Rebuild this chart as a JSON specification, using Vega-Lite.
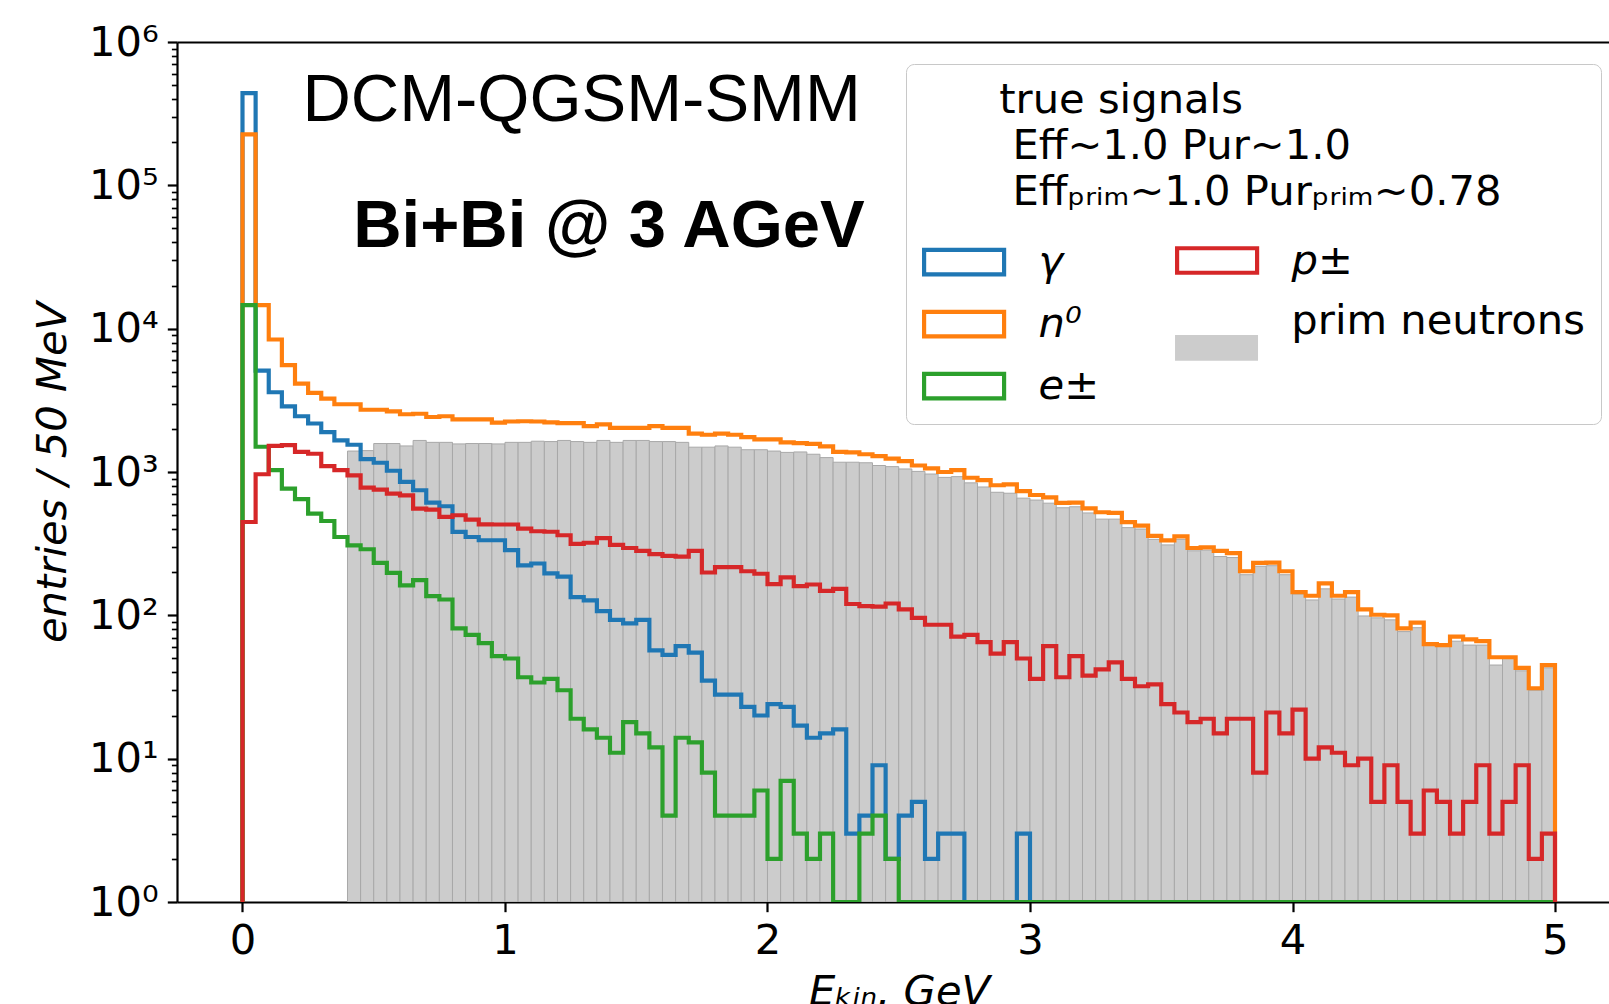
{
  "$schema": "https://vega.github.io/schema/vega-lite/v6.json",
  "autosize": {"type": "none"},
  "padding": {"left": 177, "top": 42, "right": 0, "bottom": 102},
  "width": 1432,
  "height": 860,
  "background": "white",
  "datasets": {
    "steps": [
      {"s":"γ","e":0,"n":0},
      {"s":"γ","e":0,"n":440000},{"s":"γ","e":0.05,"n":5100},{"s":"γ","e":0.1,"n":3600},{"s":"γ","e":0.15,"n":2870},{"s":"γ","e":0.2,"n":2450},{"s":"γ","e":0.25,"n":2180},{"s":"γ","e":0.3,"n":1900},{"s":"γ","e":0.35,"n":1660},{"s":"γ","e":0.4,"n":1550},{"s":"γ","e":0.45,"n":1230},
      {"s":"γ","e":0.5,"n":1160},{"s":"γ","e":0.55,"n":1020},{"s":"γ","e":0.6,"n":853},{"s":"γ","e":0.65,"n":746},{"s":"γ","e":0.7,"n":612},{"s":"γ","e":0.75,"n":577},{"s":"γ","e":0.8,"n":382},{"s":"γ","e":0.85,"n":352},{"s":"γ","e":0.9,"n":334},{"s":"γ","e":0.95,"n":334},
      {"s":"γ","e":1,"n":285},{"s":"γ","e":1.05,"n":223},{"s":"γ","e":1.1,"n":230},{"s":"γ","e":1.15,"n":196},{"s":"γ","e":1.2,"n":186},{"s":"γ","e":1.25,"n":134},{"s":"γ","e":1.3,"n":127},{"s":"γ","e":1.35,"n":107},{"s":"γ","e":1.4,"n":93},{"s":"γ","e":1.45,"n":88},
      {"s":"γ","e":1.5,"n":93},{"s":"γ","e":1.55,"n":57},{"s":"γ","e":1.6,"n":53},{"s":"γ","e":1.65,"n":61},{"s":"γ","e":1.7,"n":55},{"s":"γ","e":1.75,"n":35},{"s":"γ","e":1.8,"n":28},{"s":"γ","e":1.85,"n":28},{"s":"γ","e":1.9,"n":23},{"s":"γ","e":1.95,"n":20},
      {"s":"γ","e":2,"n":24},{"s":"γ","e":2.05,"n":23},{"s":"γ","e":2.1,"n":17},{"s":"γ","e":2.15,"n":14},{"s":"γ","e":2.2,"n":15},{"s":"γ","e":2.25,"n":16},{"s":"γ","e":2.3,"n":3},{"s":"γ","e":2.35,"n":4},{"s":"γ","e":2.4,"n":9},{"s":"γ","e":2.45,"n":2},
      {"s":"γ","e":2.5,"n":4},{"s":"γ","e":2.55,"n":5},{"s":"γ","e":2.6,"n":2},{"s":"γ","e":2.65,"n":3},{"s":"γ","e":2.7,"n":3},{"s":"γ","e":2.75,"n":1},{"s":"γ","e":2.8,"n":1},{"s":"γ","e":2.85,"n":1},{"s":"γ","e":2.9,"n":1},{"s":"γ","e":2.95,"n":3},
      {"s":"γ","e":3,"n":0},{"s":"γ","e":3.05,"n":0},{"s":"γ","e":3.1,"n":0},{"s":"γ","e":3.15,"n":0},{"s":"γ","e":3.2,"n":1},{"s":"γ","e":3.25,"n":0},{"s":"γ","e":3.3,"n":0},{"s":"γ","e":3.35,"n":0},{"s":"γ","e":3.4,"n":0},{"s":"γ","e":3.45,"n":0},
      {"s":"γ","e":3.5,"n":0},{"s":"γ","e":3.55,"n":0},{"s":"γ","e":3.6,"n":1},{"s":"γ","e":3.65,"n":1},{"s":"γ","e":3.7,"n":0},{"s":"γ","e":3.75,"n":0},{"s":"γ","e":3.8,"n":0},{"s":"γ","e":3.85,"n":0},{"s":"γ","e":3.9,"n":0},{"s":"γ","e":3.95,"n":0},
      {"s":"γ","e":4,"n":0},{"s":"γ","e":4.05,"n":0},{"s":"γ","e":4.1,"n":0},{"s":"γ","e":4.15,"n":0},{"s":"γ","e":4.2,"n":0},{"s":"γ","e":4.25,"n":0},{"s":"γ","e":4.3,"n":0},{"s":"γ","e":4.35,"n":0},{"s":"γ","e":4.4,"n":0},{"s":"γ","e":4.45,"n":0},
      {"s":"γ","e":4.5,"n":0},{"s":"γ","e":4.55,"n":0},{"s":"γ","e":4.6,"n":0},{"s":"γ","e":4.65,"n":0},{"s":"γ","e":4.7,"n":0},{"s":"γ","e":4.75,"n":0},{"s":"γ","e":4.8,"n":0},{"s":"γ","e":4.85,"n":0},{"s":"γ","e":4.9,"n":0},{"s":"γ","e":4.95,"n":0},
      {"s":"γ","e":5,"n":0},

      {"s":"n⁰","e":0,"n":0},
      {"s":"n⁰","e":0,"n":227000},{"s":"n⁰","e":0.05,"n":14600},{"s":"n⁰","e":0.1,"n":8400},{"s":"n⁰","e":0.15,"n":5560},{"s":"n⁰","e":0.2,"n":4140},{"s":"n⁰","e":0.25,"n":3560},{"s":"n⁰","e":0.3,"n":3250},{"s":"n⁰","e":0.35,"n":2970},{"s":"n⁰","e":0.4,"n":2970},{"s":"n⁰","e":0.45,"n":2720},
      {"s":"n⁰","e":0.5,"n":2720},{"s":"n⁰","e":0.55,"n":2650},{"s":"n⁰","e":0.6,"n":2530},{"s":"n⁰","e":0.65,"n":2550},{"s":"n⁰","e":0.7,"n":2420},{"s":"n⁰","e":0.75,"n":2450},{"s":"n⁰","e":0.8,"n":2330},{"s":"n⁰","e":0.85,"n":2330},{"s":"n⁰","e":0.9,"n":2330},{"s":"n⁰","e":0.95,"n":2210},
      {"s":"n⁰","e":1,"n":2250},{"s":"n⁰","e":1.05,"n":2260},{"s":"n⁰","e":1.1,"n":2250},{"s":"n⁰","e":1.15,"n":2220},{"s":"n⁰","e":1.2,"n":2190},{"s":"n⁰","e":1.25,"n":2190},{"s":"n⁰","e":1.3,"n":2090},{"s":"n⁰","e":1.35,"n":2150},{"s":"n⁰","e":1.4,"n":2030},{"s":"n⁰","e":1.45,"n":2030},
      {"s":"n⁰","e":1.5,"n":2030},{"s":"n⁰","e":1.55,"n":2090},{"s":"n⁰","e":1.6,"n":2030},{"s":"n⁰","e":1.65,"n":2030},{"s":"n⁰","e":1.7,"n":1850},{"s":"n⁰","e":1.75,"n":1820},{"s":"n⁰","e":1.8,"n":1850},{"s":"n⁰","e":1.85,"n":1820},{"s":"n⁰","e":1.9,"n":1750},{"s":"n⁰","e":1.95,"n":1690},
      {"s":"n⁰","e":2,"n":1690},{"s":"n⁰","e":2.05,"n":1610},{"s":"n⁰","e":2.1,"n":1590},{"s":"n⁰","e":2.15,"n":1570},{"s":"n⁰","e":2.2,"n":1510},{"s":"n⁰","e":2.25,"n":1380},{"s":"n⁰","e":2.3,"n":1370},{"s":"n⁰","e":2.35,"n":1330},{"s":"n⁰","e":2.4,"n":1290},{"s":"n⁰","e":2.45,"n":1240},
      {"s":"n⁰","e":2.5,"n":1190},{"s":"n⁰","e":2.55,"n":1110},{"s":"n⁰","e":2.6,"n":1060},{"s":"n⁰","e":2.65,"n":1000},{"s":"n⁰","e":2.7,"n":1030},{"s":"n⁰","e":2.75,"n":912},{"s":"n⁰","e":2.8,"n":877},{"s":"n⁰","e":2.85,"n":808},{"s":"n⁰","e":2.9,"n":820},{"s":"n⁰","e":2.95,"n":735},
      {"s":"n⁰","e":3,"n":691},{"s":"n⁰","e":3.05,"n":665},{"s":"n⁰","e":3.1,"n":609},{"s":"n⁰","e":3.15,"n":611},{"s":"n⁰","e":3.2,"n":557},{"s":"n⁰","e":3.25,"n":524},{"s":"n⁰","e":3.3,"n":518},{"s":"n⁰","e":3.35,"n":447},{"s":"n⁰","e":3.4,"n":423},{"s":"n⁰","e":3.45,"n":358},
      {"s":"n⁰","e":3.5,"n":333},{"s":"n⁰","e":3.55,"n":356},{"s":"n⁰","e":3.6,"n":295},{"s":"n⁰","e":3.65,"n":298},{"s":"n⁰","e":3.7,"n":282},{"s":"n⁰","e":3.75,"n":272},{"s":"n⁰","e":3.8,"n":203},{"s":"n⁰","e":3.85,"n":232},{"s":"n⁰","e":3.9,"n":233},{"s":"n⁰","e":3.95,"n":203},
      {"s":"n⁰","e":4,"n":145},{"s":"n⁰","e":4.05,"n":137},{"s":"n⁰","e":4.1,"n":167},{"s":"n⁰","e":4.15,"n":137},{"s":"n⁰","e":4.2,"n":145},{"s":"n⁰","e":4.25,"n":110},{"s":"n⁰","e":4.3,"n":101},{"s":"n⁰","e":4.35,"n":100},{"s":"n⁰","e":4.4,"n":81},{"s":"n⁰","e":4.45,"n":89},
      {"s":"n⁰","e":4.5,"n":63},{"s":"n⁰","e":4.55,"n":62},{"s":"n⁰","e":4.6,"n":71},{"s":"n⁰","e":4.65,"n":68},{"s":"n⁰","e":4.7,"n":66},{"s":"n⁰","e":4.75,"n":51},{"s":"n⁰","e":4.8,"n":51},{"s":"n⁰","e":4.85,"n":43},{"s":"n⁰","e":4.9,"n":31},{"s":"n⁰","e":4.95,"n":45},
      {"s":"n⁰","e":5,"n":0},

      {"s":"e±","e":0,"n":0},
      {"s":"e±","e":0,"n":14600},{"s":"e±","e":0.05,"n":1500},{"s":"e±","e":0.1,"n":1030},{"s":"e±","e":0.15,"n":766},{"s":"e±","e":0.2,"n":646},{"s":"e±","e":0.25,"n":513},{"s":"e±","e":0.3,"n":455},{"s":"e±","e":0.35,"n":352},{"s":"e±","e":0.4,"n":308},{"s":"e±","e":0.45,"n":289},
      {"s":"e±","e":0.5,"n":232},{"s":"e±","e":0.55,"n":198},{"s":"e±","e":0.6,"n":162},{"s":"e±","e":0.65,"n":176},{"s":"e±","e":0.7,"n":136},{"s":"e±","e":0.75,"n":129},{"s":"e±","e":0.8,"n":81},{"s":"e±","e":0.85,"n":73},{"s":"e±","e":0.9,"n":64},{"s":"e±","e":0.95,"n":52},
      {"s":"e±","e":1,"n":50},{"s":"e±","e":1.05,"n":37},{"s":"e±","e":1.1,"n":34},{"s":"e±","e":1.15,"n":36},{"s":"e±","e":1.2,"n":30},{"s":"e±","e":1.25,"n":19},{"s":"e±","e":1.3,"n":16},{"s":"e±","e":1.35,"n":14},{"s":"e±","e":1.4,"n":11},{"s":"e±","e":1.45,"n":18},
      {"s":"e±","e":1.5,"n":15},{"s":"e±","e":1.55,"n":12},{"s":"e±","e":1.6,"n":4},{"s":"e±","e":1.65,"n":14},{"s":"e±","e":1.7,"n":13},{"s":"e±","e":1.75,"n":8},{"s":"e±","e":1.8,"n":4},{"s":"e±","e":1.85,"n":4},{"s":"e±","e":1.9,"n":4},{"s":"e±","e":1.95,"n":6},
      {"s":"e±","e":2,"n":2},{"s":"e±","e":2.05,"n":7},{"s":"e±","e":2.1,"n":3},{"s":"e±","e":2.15,"n":2},{"s":"e±","e":2.2,"n":3},{"s":"e±","e":2.25,"n":1},{"s":"e±","e":2.3,"n":0},{"s":"e±","e":2.35,"n":3},{"s":"e±","e":2.4,"n":4},{"s":"e±","e":2.45,"n":2},
      {"s":"e±","e":2.5,"n":1},{"s":"e±","e":2.55,"n":1},{"s":"e±","e":2.6,"n":1},{"s":"e±","e":2.65,"n":0},{"s":"e±","e":2.7,"n":1},{"s":"e±","e":2.75,"n":0},{"s":"e±","e":2.8,"n":1},{"s":"e±","e":2.85,"n":0},{"s":"e±","e":2.9,"n":0},{"s":"e±","e":2.95,"n":0},
      {"s":"e±","e":3,"n":0},{"s":"e±","e":3.05,"n":0},{"s":"e±","e":3.1,"n":1},{"s":"e±","e":3.15,"n":0},{"s":"e±","e":3.2,"n":0},{"s":"e±","e":3.25,"n":0},{"s":"e±","e":3.3,"n":0},{"s":"e±","e":3.35,"n":0},{"s":"e±","e":3.4,"n":0},{"s":"e±","e":3.45,"n":0},
      {"s":"e±","e":3.5,"n":0},{"s":"e±","e":3.55,"n":0},{"s":"e±","e":3.6,"n":0},{"s":"e±","e":3.65,"n":0},{"s":"e±","e":3.7,"n":0},{"s":"e±","e":3.75,"n":0},{"s":"e±","e":3.8,"n":0},{"s":"e±","e":3.85,"n":0},{"s":"e±","e":3.9,"n":0},{"s":"e±","e":3.95,"n":0},
      {"s":"e±","e":4,"n":0},{"s":"e±","e":4.05,"n":0},{"s":"e±","e":4.1,"n":0},{"s":"e±","e":4.15,"n":0},{"s":"e±","e":4.2,"n":0},{"s":"e±","e":4.25,"n":0},{"s":"e±","e":4.3,"n":0},{"s":"e±","e":4.35,"n":0},{"s":"e±","e":4.4,"n":0},{"s":"e±","e":4.45,"n":0},
      {"s":"e±","e":4.5,"n":0},{"s":"e±","e":4.55,"n":0},{"s":"e±","e":4.6,"n":0},{"s":"e±","e":4.65,"n":0},{"s":"e±","e":4.7,"n":0},{"s":"e±","e":4.75,"n":0},{"s":"e±","e":4.8,"n":0},{"s":"e±","e":4.85,"n":0},{"s":"e±","e":4.9,"n":0},{"s":"e±","e":4.95,"n":0},
      {"s":"e±","e":5,"n":0},

      {"s":"p±","e":0,"n":0},
      {"s":"p±","e":0,"n":448},{"s":"p±","e":0.05,"n":964},{"s":"p±","e":0.1,"n":1520},{"s":"p±","e":0.15,"n":1540},{"s":"p±","e":0.2,"n":1380},{"s":"p±","e":0.25,"n":1340},{"s":"p±","e":0.3,"n":1100},{"s":"p±","e":0.35,"n":1030},{"s":"p±","e":0.4,"n":948},{"s":"p±","e":0.45,"n":778},
      {"s":"p±","e":0.5,"n":753},{"s":"p±","e":0.55,"n":706},{"s":"p±","e":0.6,"n":687},{"s":"p±","e":0.65,"n":555},{"s":"p±","e":0.7,"n":547},{"s":"p±","e":0.75,"n":486},{"s":"p±","e":0.8,"n":499},{"s":"p±","e":0.85,"n":465},{"s":"p±","e":0.9,"n":431},{"s":"p±","e":0.95,"n":430},
      {"s":"p±","e":1,"n":430},{"s":"p±","e":1.05,"n":403},{"s":"p±","e":1.1,"n":386},{"s":"p±","e":1.15,"n":383},{"s":"p±","e":1.2,"n":362},{"s":"p±","e":1.25,"n":315},{"s":"p±","e":1.3,"n":321},{"s":"p±","e":1.35,"n":346},{"s":"p±","e":1.4,"n":310},{"s":"p±","e":1.45,"n":295},
      {"s":"p±","e":1.5,"n":282},{"s":"p±","e":1.55,"n":267},{"s":"p±","e":1.6,"n":260},{"s":"p±","e":1.65,"n":257},{"s":"p±","e":1.7,"n":282},{"s":"p±","e":1.75,"n":199},{"s":"p±","e":1.8,"n":217},{"s":"p±","e":1.85,"n":217},{"s":"p±","e":1.9,"n":203},{"s":"p±","e":1.95,"n":195},
      {"s":"p±","e":2,"n":165},{"s":"p±","e":2.05,"n":184},{"s":"p±","e":2.1,"n":160},{"s":"p±","e":2.15,"n":164},{"s":"p±","e":2.2,"n":148},{"s":"p±","e":2.25,"n":153},{"s":"p±","e":2.3,"n":120},{"s":"p±","e":2.35,"n":116},{"s":"p±","e":2.4,"n":115},{"s":"p±","e":2.45,"n":121},
      {"s":"p±","e":2.5,"n":110},{"s":"p±","e":2.55,"n":96},{"s":"p±","e":2.6,"n":86},{"s":"p±","e":2.65,"n":86},{"s":"p±","e":2.7,"n":71},{"s":"p±","e":2.75,"n":73},{"s":"p±","e":2.8,"n":65},{"s":"p±","e":2.85,"n":54},{"s":"p±","e":2.9,"n":65},{"s":"p±","e":2.95,"n":50},
      {"s":"p±","e":3,"n":36},{"s":"p±","e":3.05,"n":61},{"s":"p±","e":3.1,"n":37},{"s":"p±","e":3.15,"n":52},{"s":"p±","e":3.2,"n":38},{"s":"p±","e":3.25,"n":42},{"s":"p±","e":3.3,"n":47},{"s":"p±","e":3.35,"n":36},{"s":"p±","e":3.4,"n":32},{"s":"p±","e":3.45,"n":33},
      {"s":"p±","e":3.5,"n":24},{"s":"p±","e":3.55,"n":21},{"s":"p±","e":3.6,"n":18},{"s":"p±","e":3.65,"n":19},{"s":"p±","e":3.7,"n":15},{"s":"p±","e":3.75,"n":19},{"s":"p±","e":3.8,"n":19},{"s":"p±","e":3.85,"n":8},{"s":"p±","e":3.9,"n":21},{"s":"p±","e":3.95,"n":15},
      {"s":"p±","e":4,"n":22},{"s":"p±","e":4.05,"n":10},{"s":"p±","e":4.1,"n":12},{"s":"p±","e":4.15,"n":11},{"s":"p±","e":4.2,"n":9},{"s":"p±","e":4.25,"n":10},{"s":"p±","e":4.3,"n":5},{"s":"p±","e":4.35,"n":9},{"s":"p±","e":4.4,"n":5},{"s":"p±","e":4.45,"n":3},
      {"s":"p±","e":4.5,"n":6},{"s":"p±","e":4.55,"n":5},{"s":"p±","e":4.6,"n":3},{"s":"p±","e":4.65,"n":5},{"s":"p±","e":4.7,"n":9},{"s":"p±","e":4.75,"n":3},{"s":"p±","e":4.8,"n":5},{"s":"p±","e":4.85,"n":9},{"s":"p±","e":4.9,"n":2},{"s":"p±","e":4.95,"n":3},
      {"s":"p±","e":5,"n":0}
    ],
    "prim": [
      {"e":0.4,"e2":0.45,"n":1400},{"e":0.45,"e2":0.5,"n":1410},
      {"e":0.5,"e2":0.55,"n":1580},{"e":0.55,"e2":0.6,"n":1580},{"e":0.6,"e2":0.65,"n":1520},{"e":0.65,"e2":0.7,"n":1660},{"e":0.7,"e2":0.75,"n":1610},{"e":0.75,"e2":0.8,"n":1610},{"e":0.8,"e2":0.85,"n":1570},{"e":0.85,"e2":0.9,"n":1580},{"e":0.9,"e2":0.95,"n":1580},{"e":0.95,"e2":1,"n":1570},
      {"e":1,"e2":1.05,"n":1610},{"e":1.05,"e2":1.1,"n":1610},{"e":1.1,"e2":1.15,"n":1640},{"e":1.15,"e2":1.2,"n":1630},{"e":1.2,"e2":1.25,"n":1660},{"e":1.25,"e2":1.3,"n":1630},{"e":1.3,"e2":1.35,"n":1610},{"e":1.35,"e2":1.4,"n":1660},{"e":1.4,"e2":1.45,"n":1610},{"e":1.45,"e2":1.5,"n":1660},
      {"e":1.5,"e2":1.55,"n":1660},{"e":1.55,"e2":1.6,"n":1630},{"e":1.6,"e2":1.65,"n":1630},{"e":1.65,"e2":1.7,"n":1610},{"e":1.7,"e2":1.75,"n":1490},{"e":1.75,"e2":1.8,"n":1490},{"e":1.8,"e2":1.85,"n":1520},{"e":1.85,"e2":1.9,"n":1490},{"e":1.9,"e2":1.95,"n":1430},{"e":1.95,"e2":2,"n":1430},
      {"e":2,"e2":2.05,"n":1400},{"e":2.05,"e2":2.1,"n":1370},{"e":2.1,"e2":2.15,"n":1380},{"e":2.15,"e2":2.2,"n":1330},{"e":2.2,"e2":2.25,"n":1260},{"e":2.25,"e2":2.3,"n":1170},{"e":2.3,"e2":2.35,"n":1170},{"e":2.35,"e2":2.4,"n":1160},{"e":2.4,"e2":2.45,"n":1110},{"e":2.45,"e2":2.5,"n":1090},
      {"e":2.5,"e2":2.55,"n":1050},{"e":2.55,"e2":2.6,"n":1010},{"e":2.6,"e2":2.65,"n":968},{"e":2.65,"e2":2.7,"n":917},{"e":2.7,"e2":2.75,"n":928},{"e":2.75,"e2":2.8,"n":840},{"e":2.8,"e2":2.85,"n":786},{"e":2.85,"e2":2.9,"n":722},{"e":2.9,"e2":2.95,"n":711},{"e":2.95,"e2":3,"n":657},
      {"e":3,"e2":3.05,"n":637},{"e":3.05,"e2":3.1,"n":606},{"e":3.1,"e2":3.15,"n":563},{"e":3.15,"e2":3.2,"n":572},{"e":3.2,"e2":3.25,"n":518},{"e":3.25,"e2":3.3,"n":469},{"e":3.3,"e2":3.35,"n":469},{"e":3.35,"e2":3.4,"n":409},{"e":3.4,"e2":3.45,"n":400},{"e":3.45,"e2":3.5,"n":339},
      {"e":3.5,"e2":3.55,"n":310},{"e":3.55,"e2":3.6,"n":339},{"e":3.6,"e2":3.65,"n":282},{"e":3.65,"e2":3.7,"n":285},{"e":3.7,"e2":3.75,"n":257},{"e":3.75,"e2":3.8,"n":253},{"e":3.8,"e2":3.85,"n":192},{"e":3.85,"e2":3.9,"n":220},{"e":3.9,"e2":3.95,"n":222},{"e":3.95,"e2":4,"n":192},
      {"e":4,"e2":4.05,"n":141},{"e":4.05,"e2":4.1,"n":128},{"e":4.1,"e2":4.15,"n":153},{"e":4.15,"e2":4.2,"n":130},{"e":4.2,"e2":4.25,"n":134},{"e":4.25,"e2":4.3,"n":99},{"e":4.3,"e2":4.35,"n":96},{"e":4.35,"e2":4.4,"n":93},{"e":4.4,"e2":4.45,"n":77},{"e":4.45,"e2":4.5,"n":82},
      {"e":4.5,"e2":4.55,"n":62},{"e":4.55,"e2":4.6,"n":61},{"e":4.6,"e2":4.65,"n":66},{"e":4.65,"e2":4.7,"n":62},{"e":4.7,"e2":4.75,"n":62},{"e":4.75,"e2":4.8,"n":45},{"e":4.8,"e2":4.85,"n":50},{"e":4.85,"e2":4.9,"n":41},{"e":4.9,"e2":4.95,"n":30},{"e":4.95,"e2":5,"n":43}
    ]
  },
  "resolve": {"axis": {"x": "independent", "y": "independent"}, "legend": {"stroke": "independent"}},
  "layer": [
    {
      "data": {"name": "prim"},
      "mark": {"type": "bar", "stroke": "#a8a8a8", "strokeWidth": 1, "clip": true},
      "encoding": {
        "x": {"field": "e", "type": "quantitative",
          "scale": {"domain": [-0.2495, 5.2057], "nice": false, "zero": false},
          "axis": {"orient": "bottom", "values": [0, 1, 2, 3, 4, 5], "format": "d", "title": "Eₖᵢₙ, GeV", "titleX": 722, "titlePadding": 10, "labelPadding": 8.5, "labelFlush": false, "labelOverlap": false}},
        "x2": {"field": "e2"},
        "y": {"field": "n", "type": "quantitative",
          "scale": {"type": "log", "domain": [1, 1000000], "nice": false, "clamp": true},
          "axis": null},
        "y2": {"datum": 1},
        "fill": {"datum": "prim neutrons", "type": "nominal",
          "scale": {"domain": ["prim neutrons"], "range": ["#cccccc"]},
          "legend": {"title": null, "orient": "none", "legendX": 998, "legendY": 258, "padding": 0,
            "labelFont": "DejaVu Sans", "labelFontSize": 41.67, "labelColor": "black", "labelFontStyle": "normal", "labelLimit": 600, "labelOffset": 54,
            "symbolType": "M-2.075,0.71H2.075V1.99H-2.075Z", "symbolSize": 1600, "symbolStrokeWidth": 0, "symbolStrokeColor": "transparent", "symbolOffset": 20.7, "symbolOpacity": 1}}
      }
    },
    {
      "data": {"name": "steps"},
      "transform": [{"filter": "datum.s !== 'p±'"}],
      "mark": {"type": "line", "interpolate": "step-after", "strokeWidth": 4.17, "strokeJoin": "miter", "clip": true},
      "encoding": {
        "x": {"field": "e", "type": "quantitative",
          "scale": {"domain": [-0.2495, 5.2057], "nice": false, "zero": false},
          "axis": null},
        "y": {"field": "n", "type": "quantitative",
          "scale": {"type": "log", "domain": [1, 1000000], "nice": false, "clamp": true},
          "axis": {"orient": "left", "values": [1, 10, 100, 1000, 10000, 100000, 1000000],
            "labelExpr": "'10' + ['⁰','¹','²','³','⁴','⁵','⁶'][round(log(datum.value)/LN10)]",
            "labelPadding": 9, "labelOverlap": false, "labelBound": false, "labelFlush": false,
            "title": "entries / 50 MeV", "titlePadding": 14}},
        "stroke": {"field": "s", "type": "nominal",
          "scale": {"domain": ["γ", "n⁰", "e±", "p±"], "range": ["#1f77b4", "#ff7f0e", "#2ca02c", "#d62728"]},
          "legend": {
            "values": ["γ", "n⁰", "e±"],
            "title": ["\u2800\u00a0\u00a0\u00a0\u2006true signals", "\u2800\u00a0\u00a0\u00a0\u00a0\u2006Eff~1.0 Pur~1.0", "\u2800\u00a0\u00a0\u00a0\u00a0\u2006Effₚᵣᵢₘ~1.0 Purₚᵣᵢₘ~0.78\u00a0\u00a0\u00a0\u00a0\u2800"],
            "orient": "none", "legendX": 729, "legendY": 22,
            "rowPadding": 17, "padding": 16, "cornerRadius": 8, "strokeColor": "#c8c8c8",
            "titleFont": "DejaVu Sans", "titleFontSize": 41.67, "titleFontWeight": "normal", "titleColor": "black",
            "titleLineHeight": 46, "titleLimit": 900, "titlePadding": 26, "titleAnchor": "start", "titleAlign": "left",
            "labelFont": "DejaVu Sans", "labelFontSize": 41.67, "labelColor": "black", "labelFontStyle": "italic", "labelLimit": 600, "labelOffset": 52,
            "symbolType": "M-2,-0.6125H2V0.6125H-2Z", "symbolSize": 1600, "symbolStrokeWidth": 4.17, "symbolOffset": 19.6, "symbolFillColor": "transparent"
          }},
        "order": {"value": null}
      }
    },
    {
      "data": {"name": "steps"},
      "transform": [{"filter": "datum.s === 'p±'"}],
      "mark": {"type": "line", "interpolate": "step-after", "strokeWidth": 4.17, "strokeJoin": "miter", "clip": true},
      "encoding": {
        "x": {"field": "e", "type": "quantitative",
          "scale": {"domain": [-0.2495, 5.2057], "nice": false, "zero": false},
          "axis": null},
        "y": {"field": "n", "type": "quantitative",
          "scale": {"type": "log", "domain": [1, 1000000], "nice": false, "clamp": true},
          "axis": null},
        "stroke": {"field": "s", "type": "nominal",
          "scale": {"domain": ["γ", "n⁰", "e±", "p±"], "range": ["#1f77b4", "#ff7f0e", "#2ca02c", "#d62728"]},
          "legend": {
            "values": ["p±"], "title": null,
            "orient": "none", "legendX": 998, "legendY": 196, "padding": 0,
            "labelFont": "DejaVu Sans", "labelFontSize": 41.67, "labelColor": "black", "labelFontStyle": "italic", "labelLimit": 600, "labelOffset": 52,
            "symbolType": "M-2,-0.6125H2V0.6125H-2Z", "symbolSize": 1600, "symbolStrokeWidth": 4.17, "symbolOffset": 19.6, "symbolFillColor": "transparent"
          }},
        "order": {"value": null}
      }
    },
    {
      "data": {"values": [{"t": "DCM-QGSM-SMM", "e": 0.2285, "n": 280000}]},
      "mark": {"type": "text", "font": "Liberation Sans", "fontSize": 67, "align": "left", "baseline": "alphabetic", "color": "black"},
      "encoding": {
        "x": {"field": "e", "type": "quantitative",
          "scale": {"domain": [-0.2495, 5.2057], "nice": false, "zero": false},
          "axis": {"orient": "top", "labels": false, "ticks": false, "domain": true, "title": null}},
        "y": {"field": "n", "type": "quantitative",
          "scale": {"type": "log", "domain": [1, 1000000], "nice": false, "clamp": true},
          "axis": {"orient": "left", "labels": false, "domain": false, "title": null, "tickSize": 5.6, "tickWidth": 1.67,
            "values": [2,3,4,5,6,7,8,9,20,30,40,50,60,70,80,90,200,300,400,500,600,700,800,900,2000,3000,4000,5000,6000,7000,8000,9000,20000,30000,40000,50000,60000,70000,80000,90000,200000,300000,400000,500000,600000,700000,800000,900000]}},
        "text": {"field": "t"}
      }
    },
    {
      "data": {"values": [{"t": "Bi+Bi @ 3 AGeV", "e": 0.4216, "n": 37150}]},
      "mark": {"type": "text", "font": "Liberation Sans", "fontSize": 67, "fontWeight": "bold", "align": "left", "baseline": "alphabetic", "color": "black"},
      "encoding": {
        "x": {"field": "e", "type": "quantitative",
          "scale": {"domain": [-0.2495, 5.2057], "nice": false, "zero": false}, "axis": null},
        "y": {"field": "n", "type": "quantitative",
          "scale": {"type": "log", "domain": [1, 1000000], "nice": false, "clamp": true}, "axis": null},
        "text": {"field": "t"}
      }
    }
  ],
  "config": {
    "view": {"stroke": null},
    "font": "DejaVu Sans",
    "axis": {
      "domainColor": "black", "domainWidth": 2.2, "tickColor": "black", "tickWidth": 2.2, "tickSize": 9.7,
      "labelFont": "DejaVu Sans", "labelFontSize": 41.67, "labelColor": "black",
      "titleFont": "DejaVu Sans", "titleFontSize": 41.67, "titleFontWeight": "normal", "titleFontStyle": "italic", "titleColor": "black",
      "grid": false, "zindex": 1
    }
  }
}
